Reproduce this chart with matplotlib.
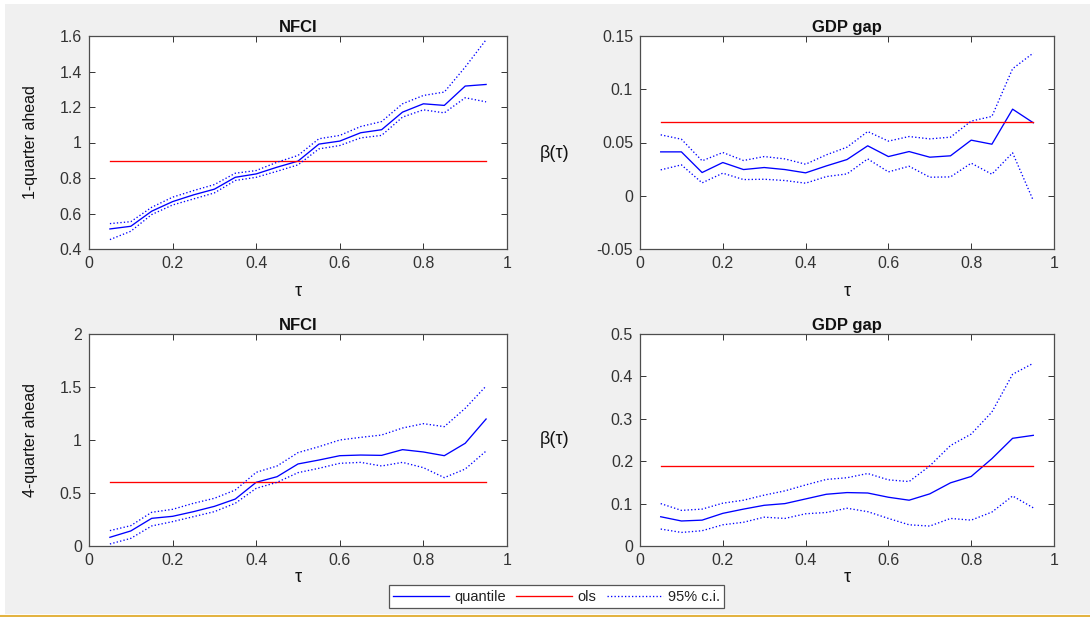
import matplotlib
matplotlib.use("Agg")
import matplotlib.pyplot as plt
from matplotlib.patches import Rectangle
from matplotlib.lines import Line2D
from matplotlib.ticker import FuncFormatter

plt.rcParams['font.family'] = ['Liberation Sans', 'DejaVu Sans']

tau = [0.05, 0.10, 0.15, 0.20, 0.25, 0.30, 0.35, 0.40, 0.45, 0.50,
       0.55, 0.60, 0.65, 0.70, 0.75, 0.80, 0.85, 0.90, 0.95]

# Top-left: NFCI, 1-quarter ahead
nfci1_q = [0.513, 0.528, 0.613, 0.667, 0.705, 0.737, 0.804, 0.823, 0.861, 0.895,
           0.991, 1.008, 1.055, 1.072, 1.171, 1.218, 1.209, 1.318, 1.327]
nfci1_hi = [0.543, 0.554, 0.635, 0.692, 0.729, 0.763, 0.827, 0.842, 0.889, 0.927,
            1.021, 1.040, 1.090, 1.118, 1.218, 1.265, 1.284, 1.425, 1.579]
nfci1_lo = [0.453, 0.500, 0.594, 0.648, 0.682, 0.716, 0.786, 0.804, 0.838, 0.874,
            0.964, 0.983, 1.026, 1.040, 1.143, 1.184, 1.167, 1.252, 1.229]
nfci1_ols = 0.897

# Top-right: GDP gap, 1-quarter ahead
gdp1_q = [0.0412, 0.0412, 0.0218, 0.0312, 0.0246, 0.0265, 0.0246, 0.0215, 0.0280, 0.0340,
          0.0469, 0.0368, 0.0415, 0.0362, 0.0375, 0.0522, 0.0484, 0.0813, 0.0685]
gdp1_hi = [0.0572, 0.0531, 0.0328, 0.0406, 0.0331, 0.0368, 0.0346, 0.0296, 0.0384, 0.0456,
           0.0603, 0.0513, 0.0556, 0.0534, 0.0550, 0.0701, 0.0745, 0.1193, 0.1340]
gdp1_lo = [0.0243, 0.0290, 0.0121, 0.0212, 0.0152, 0.0155, 0.0143, 0.0118, 0.0180, 0.0205,
           0.0346, 0.0224, 0.0277, 0.0174, 0.0177, 0.0306, 0.0202, 0.0403, -0.0045]
gdp1_ols = 0.0688

# Bottom-left: NFCI, 4-quarter ahead
nfci4_q = [0.082, 0.142, 0.261, 0.280, 0.324, 0.374, 0.443, 0.601, 0.654, 0.774,
           0.811, 0.852, 0.858, 0.855, 0.909, 0.887, 0.852, 0.969, 1.198]
nfci4_hi = [0.145, 0.192, 0.318, 0.346, 0.403, 0.450, 0.528, 0.695, 0.755, 0.881,
            0.937, 1.000, 1.025, 1.047, 1.113, 1.154, 1.126, 1.299, 1.509]
nfci4_lo = [0.019, 0.072, 0.189, 0.230, 0.277, 0.324, 0.403, 0.544, 0.601, 0.692,
            0.733, 0.780, 0.789, 0.755, 0.789, 0.739, 0.645, 0.726, 0.896]
nfci4_ols = 0.60

# Bottom-right: GDP gap, 4-quarter ahead
gdp4_q = [0.069, 0.059, 0.061, 0.077, 0.087, 0.096, 0.100, 0.111, 0.122, 0.126,
          0.125, 0.115, 0.108, 0.123, 0.149, 0.164, 0.206, 0.254, 0.261]
gdp4_hi = [0.100, 0.084, 0.087, 0.101, 0.108, 0.120, 0.130, 0.144, 0.157, 0.161,
           0.171, 0.156, 0.152, 0.189, 0.237, 0.264, 0.316, 0.405, 0.431]
gdp4_lo = [0.040, 0.032, 0.036, 0.050, 0.056, 0.068, 0.065, 0.076, 0.079, 0.089,
           0.081, 0.065, 0.050, 0.047, 0.065, 0.061, 0.080, 0.118, 0.090]
gdp4_ols = 0.189

titles = ["NFCI", "GDP gap", "NFCI", "GDP gap"]
ylabels = ["1-quarter ahead", "β(τ)", "4-quarter ahead", "β(τ)"]
ylims = [(0.4, 1.6), (-0.05, 0.15), (0, 2), (0, 0.5)]
yticks = [[0.4, 0.6, 0.8, 1.0, 1.2, 1.4, 1.6],
          [-0.05, 0, 0.05, 0.1, 0.15],
          [0, 0.5, 1, 1.5, 2],
          [0, 0.1, 0.2, 0.3, 0.4, 0.5]]
xticks = [0, 0.2, 0.4, 0.6, 0.8, 1]
legend_labels = ['quantile', 'ols', '95% c.i.']
series = [(nfci1_q, nfci1_hi, nfci1_lo, nfci1_ols),
          (gdp1_q, gdp1_hi, gdp1_lo, gdp1_ols),
          (nfci4_q, nfci4_hi, nfci4_lo, nfci4_ols),
          (gdp4_q, gdp4_hi, gdp4_lo, gdp4_ols)]

W, H = 1090, 617
fig = plt.figure(figsize=(W / 100, H / 100), dpi=100)
fig.patch.set_facecolor('white')
fig.patches.append(Rectangle((5 / W, (H - 614) / H), 1 - 5 / W, (614 - 4) / H,
                             transform=fig.transFigure, facecolor='#f0f0f0',
                             edgecolor='none', zorder=-10))
fig.lines.append(Line2D([0, 1], [(H - 615.5) / H] * 2, transform=fig.transFigure,
                        color='#e3b341', lw=2.2))

# axes boxes in pixels: (left, top, right, bottom)
boxes = [(89, 36, 507, 249), (640, 36, 1054, 249),
         (89, 334, 507, 546), (640, 334, 1054, 546)]

fmt = FuncFormatter(lambda v, p: ('%g' % round(v, 4)))
for i, (l, t, r, b) in enumerate(boxes):
    ax = fig.add_axes([l / W, (H - b) / H, (r - l) / W, (b - t) / H])
    q, hi, lo, ols = series[i]
    lq, = ax.plot(tau, q, color='#0000ff', lw=0.95)
    lo_line, = ax.plot([tau[0], tau[-1]], [ols, ols], color='#ff0000', lw=0.95)
    lci, = ax.plot(tau, hi, color='#0000ff', lw=0.95, ls=':')
    ax.plot(tau, lo, color='#0000ff', lw=0.95, ls=':')
    ax.set_xlim(0, 1)
    ax.set_ylim(*ylims[i])
    ax.set_xticks(xticks)
    ax.set_yticks(yticks[i])
    ax.xaxis.set_major_formatter(fmt)
    ax.yaxis.set_major_formatter(fmt)
    ax.tick_params(direction='in', length=4, width=0.7, top=True, right=True,
                   labelsize=11.5, colors='#333333', pad=5)
    for s in ax.spines.values():
        s.set_color('#4d4d4d')
        s.set_linewidth(0.9)
    ax.set_title(titles[i], fontsize=12, fontweight='bold', pad=3, color='#111111')
    ax.set_xlabel('τ', fontsize=13, va='center', color='#111111')
    if i < 2:
        ax.xaxis.set_label_coords(0.5, (b - 292) / (b - t))
    else:
        ax.xaxis.set_label_coords(0.5, (b - 577) / (b - t))
    if i % 2 == 0:
        ax.set_ylabel(ylabels[i], fontsize=11.5, va='center', color='#111111')
        ax.yaxis.set_label_coords((30 - l) / (r - l), 0.5)
    else:
        ax.set_ylabel(ylabels[i], fontsize=13, rotation=0, va='center', ha='center',
                      color='#111111')
        yc = 153 if i == 1 else 440
        ax.yaxis.set_label_coords((555 - l) / (r - l), (b - yc) / (b - t))

leg = fig.legend([lq, lo_line, lci], legend_labels,
                 loc='center', bbox_to_anchor=(556.5 / W, (H - 596.7) / H), ncol=3,
                 fontsize=10.5, handlelength=3.85, fancybox=False, framealpha=1,
                 edgecolor='#555555', borderpad=0.3, columnspacing=0.7,
                 handletextpad=0.35)
leg.get_frame().set_linewidth(0.9)
for txt in leg.get_texts():
    txt.set_color('#222222')

fig.savefig('out.png', dpi=100, facecolor=fig.get_facecolor())
